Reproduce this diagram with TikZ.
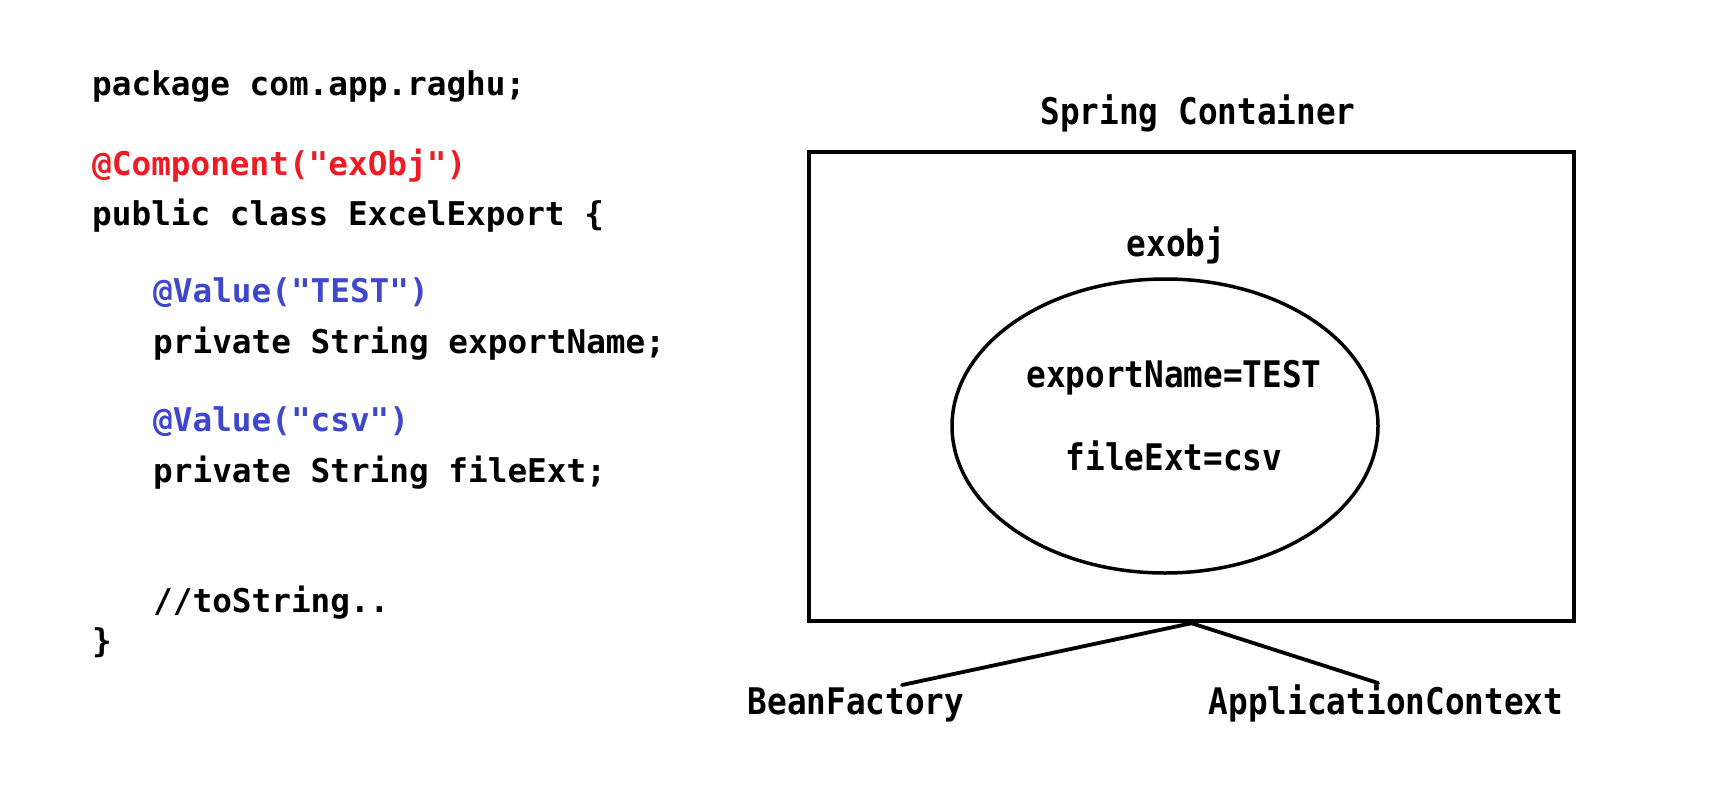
\documentclass[tikz,border=0pt]{standalone}
\usepackage{fontspec}
\setmonofont{DejaVu Sans Mono}
\usetikzlibrary{shapes.geometric}
\definecolor{annred}{RGB}{237,28,36}
\definecolor{annblue}{RGB}{63,72,204}
\tikzset{
  code/.style={anchor=base west, inner sep=0pt, font=\ttfamily\bfseries\fontsize{32.7}{40}\selectfont},
  label/.style={anchor=base, inner sep=0pt, font=\ttfamily\bfseries\fontsize{32.7}{40}\selectfont, yscale=1.12},
  thick line/.style={line width=4.4pt},
  conn/.style={line width=3.8pt, line cap=round}
}
\begin{document}
\begin{tikzpicture}[x=1pt,y=-1pt]
\useasboundingbox (0,0) rectangle (1736,808);
\fill[white] (0,0) rectangle (1736,808);
% code
\node[code] (l1) at (92,95) {package com.app.raghu;};
\node[code, text=annred] (l2) at (92,175) {@Component("exObj")};
\node[code] (l3) at (92,225) {public class ExcelExport \{};
\node[code, text=annblue] (l4) at (153,302) {@Value("TEST")};
\node[code] (l5) at (153,353) {private String exportName;};
\node[code, text=annblue] (l6) at (153,431) {@Value("csv")};
\node[code] (l7) at (153,482) {private String fileExt;};
\node[code] (l8) at (153,612) {//toString..};
\node[code] (l9) at (92,652) {\}};
% container
\node[label] (title) at (1198,124) {Spring Container};
\node[draw, thick line, rectangle, minimum width=765pt, minimum height=469pt, inner sep=0pt] (box) at (1191.5,386.5) {};
\node[label] (exobj) at (1176,256) {exobj};
\node[draw, line width=3.5pt, ellipse, minimum width=426pt, minimum height=294pt, inner sep=0pt] (obj) at (1165,426) {};
\node[label] (f1) at (1174,387) {exportName=TEST};
\node[label] (f2) at (1174,470) {fileExt=csv};
% factories
\node[label] (bf) at (856,714) {BeanFactory};
\node[label] (ac) at (1386,714) {ApplicationContext};
\coordinate (bfend) at (902,685);
\coordinate (acend) at (1378,683);
\draw[conn] (box.south) -- (bfend);
\draw[conn] (box.south) -- (acend);
\end{tikzpicture}
\end{document}
